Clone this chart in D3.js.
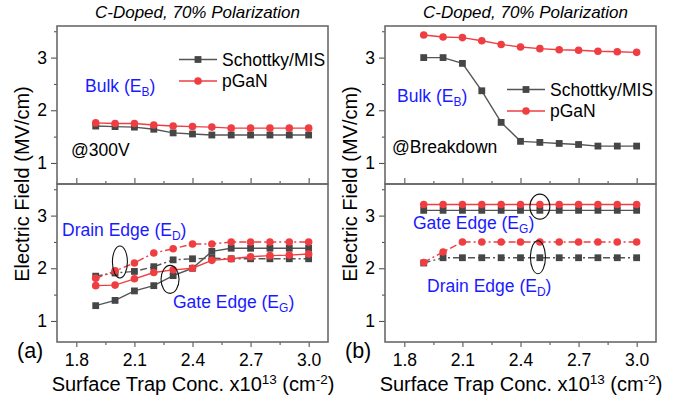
<!DOCTYPE html>
<html>
<head>
<meta charset="utf-8">
<script src="https://cdn.jsdelivr.net/npm/d3@7"></script>
<style>
  body { margin: 0; background: #fff; }
  svg { font-family: "Liberation Sans", Arial, sans-serif; }
</style>
</head>
<body>
<div id="chart"></div>
<script>
// surface trap concentration (x10^13 cm^-2)
const trapConc = [1.9, 2.0, 2.1, 2.2, 2.3, 2.4, 2.5, 2.6, 2.7, 2.8, 2.9, 3.0];

// (a) @300V
const bulk300Schottky = [1.70, 1.69, 1.68, 1.64, 1.57, 1.55, 1.53, 1.53, 1.53, 1.53, 1.53, 1.53];
const bulk300Pgan     = [1.76, 1.75, 1.75, 1.72, 1.70, 1.69, 1.68, 1.66, 1.66, 1.66, 1.66, 1.66];
const gate300Schottky = [1.29, 1.39, 1.57, 1.67, 1.86, 2.00, 2.32, 2.38, 2.38, 2.38, 2.38, 2.38];
const drain300Schottky= [1.85, 1.91, 1.94, 2.03, 2.16, 2.18, 2.19, 2.18, 2.18, 2.18, 2.18, 2.18];
const gate300Pgan     = [1.67, 1.68, 1.80, 1.92, 1.97, 2.00, 2.15, 2.18, 2.22, 2.24, 2.25, 2.27];
const drain300Pgan    = [1.81, 1.95, 2.10, 2.29, 2.37, 2.46, 2.46, 2.50, 2.50, 2.50, 2.50, 2.50];

// (b) @Breakdown
const bulkBdSchottky  = [3.00, 3.00, 2.89, 2.37, 1.77, 1.41, 1.39, 1.37, 1.35, 1.32, 1.32, 1.32];
const bulkBdPgan      = [3.43, 3.39, 3.38, 3.32, 3.25, 3.20, 3.17, 3.15, 3.14, 3.12, 3.11, 3.10];
const gateBdSchottky  = [3.10, 3.10, 3.10, 3.10, 3.10, 3.10, 3.10, 3.10, 3.10, 3.10, 3.10, 3.10];
const drainBdSchottky = [2.10, 2.20, 2.20, 2.20, 2.20, 2.20, 2.20, 2.20, 2.20, 2.20, 2.20, 2.20];
const gateBdPgan      = [3.21, 3.21, 3.21, 3.21, 3.21, 3.21, 3.21, 3.21, 3.21, 3.21, 3.21, 3.21];
const drainBdPgan     = [2.11, 2.31, 2.50, 2.50, 2.50, 2.50, 2.50, 2.50, 2.50, 2.50, 2.50, 2.50];

const xTicks = [1.8, 2.1, 2.4, 2.7, 3.0];
const xMinorTicks = [1.95, 2.25, 2.55, 2.85];
const yTicks = [1, 2, 3];
const yMinorTicks = [1.5, 2.5, 3.5];

const W = 679, H = 401;
const dark = "#464646", red = "#ef3e42", blue = "#1a1aff", frameColor = "#6a6a6a";

const svg = d3.select("#chart").append("svg")
  .attr("width", W).attr("height", H);

const yTop = d3.scaleLinear().domain([0.6, 3.6]).range([184, 26]);
const yBot = d3.scaleLinear().domain([0.6, 3.6]).range([342, 184]);

function series(g, x, y, vals, color, shape, dash) {
  const line = d3.line().x((d, i) => x(trapConc[i])).y(d => y(d));
  g.append("path").datum(vals)
    .attr("d", line).attr("fill", "none")
    .attr("stroke", color === "dark" ? "#555" : red)
    .attr("stroke-width", 1.4)
    .attr("stroke-dasharray", dash || null);
  if (shape == "square") {
    g.selectAll(null).data(vals).enter().append("rect")
      .attr("x", (d, i) => x(trapConc[i]) - 3.4)
      .attr("y", d => y(d) - 3.4)
      .attr("width", 6.8).attr("height", 6.8)
      .attr("fill", dark);
  } else {
    g.selectAll(null).data(vals).enter().append("circle")
      .attr("cx", (d, i) => x(trapConc[i]))
      .attr("cy", d => y(d))
      .attr("r", 3.8)
      .attr("fill", red);
  }
}

function subText(g, x, y, main, sub, size) {
  const t = g.append("text").attr("x", x).attr("y", y)
    .attr("font-size", size || 17).attr("fill", blue);
  t.append("tspan").text(main);
  t.append("tspan").attr("dy", 4).attr("font-size", 12).text(sub);
  t.append("tspan").attr("dy", -4).text(")");
}

function ellipse(g, x, y, cx, cy, rx, ry) {
  g.append("ellipse")
    .attr("cx", x(cx)).attr("cy", y(cy))
    .attr("rx", rx).attr("ry", ry)
    .attr("fill", "none").attr("stroke", "#111").attr("stroke-width", 1.1);
}

function drawPanel(x, d, label) {
  const g = svg.append("g");
  const x0 = x.range()[0], x1 = x.range()[1];

  // y axes (ticks outward, left)
  [yTop, yBot].forEach(y => {
    g.append("g").attr("transform", `translate(${x0},0)`)
      .call(d3.axisLeft(y).tickValues(yTicks).tickSize(6).tickPadding(4).tickFormat(d3.format("d")))
      .call(a => a.select(".domain").remove())
      .call(a => a.selectAll("text").attr("font-size", 17.5).attr("fill", "#000"));
    g.append("g").attr("transform", `translate(${x0},0)`)
      .call(d3.axisLeft(y).tickValues(yMinorTicks).tickSize(3).tickFormat(""))
      .call(a => a.select(".domain").remove());
  });

  // top panel bottom ticks (pointing up, inside)
  g.append("g").attr("transform", "translate(0,184)")
    .call(d3.axisTop(x).tickValues(xTicks).tickSize(6).tickFormat(""))
    .call(a => a.select(".domain").remove());
  g.append("g").attr("transform", "translate(0,184)")
    .call(d3.axisTop(x).tickValues(xMinorTicks).tickSize(3).tickFormat(""))
    .call(a => a.select(".domain").remove());

  // bottom x axis
  g.append("g").attr("transform", "translate(0,342)")
    .call(d3.axisBottom(x).tickValues(xTicks).tickSize(5).tickPadding(7).tickFormat(d3.format(".1f")))
    .call(a => a.select(".domain").remove())
    .call(a => a.selectAll("text").attr("font-size", 17.5).attr("fill", "#000"));
  g.append("g").attr("transform", "translate(0,342)")
    .call(d3.axisBottom(x).tickValues(xMinorTicks).tickSize(3).tickFormat(""))
    .call(a => a.select(".domain").remove());

  g.selectAll(".tick line").attr("stroke", "#444");

  // frames
  g.append("rect").attr("x", x0).attr("y", 26).attr("width", x1 - x0).attr("height", 158)
    .attr("fill", "none").attr("stroke", frameColor).attr("stroke-width", 1.6);
  g.append("rect").attr("x", x0).attr("y", 184).attr("width", x1 - x0).attr("height", 158)
    .attr("fill", "none").attr("stroke", frameColor).attr("stroke-width", 1.6);

  // data
  series(g, x, yTop, d.bulkS, "dark", "square");
  series(g, x, yTop, d.bulkP, "red", "circle");
  series(g, x, yBot, d.gateS, "dark", "square");
  series(g, x, yBot, d.drainS, "dark", "square", "7,3,2,3");
  series(g, x, yBot, d.gateP, "red", "circle");
  series(g, x, yBot, d.drainP, "red", "circle", "7,3,2,3");

  // title
  g.append("text").attr("x", (x0 + x1) / 2 + 5).attr("y", 18)
    .attr("text-anchor", "middle").attr("font-size", 17).attr("font-style", "italic")
    .text("C-Doped, 70% Polarization");

  // y title
  g.append("text")
    .attr("transform", `translate(${x0 - 28},184) rotate(-90)`)
    .attr("text-anchor", "middle").attr("font-size", 20)
    .text("Electric Field (MV/cm)");

  // x title
  const xt = g.append("text").attr("x", (x0 + x1) / 2 + 0.5).attr("y", 391)
    .attr("text-anchor", "middle").attr("font-size", 20);
  xt.append("tspan").text("Surface Trap Conc. x10");
  xt.append("tspan").attr("dy", -7).attr("font-size", 13.5).text("13");
  xt.append("tspan").attr("dy", 7).text(" (cm");
  xt.append("tspan").attr("dy", -7).attr("font-size", 13.5).text("-2");
  xt.append("tspan").attr("dy", 7).text(")");

  // panel label
  g.append("text").attr("x", x0 - 40).attr("y", 358)
    .attr("font-size", 21.5).text(label);

  return g;
}

const xL = d3.scaleLinear().domain([1.7, 3.1]).range([57, 328]);
const xR = d3.scaleLinear().domain([1.7, 3.1]).range([385, 656]);

const gA = drawPanel(xL, {
  bulkS: bulk300Schottky, bulkP: bulk300Pgan,
  gateS: gate300Schottky, drainS: drain300Schottky,
  gateP: gate300Pgan, drainP: drain300Pgan
}, "(a)");

const gB = drawPanel(xR, {
  bulkS: bulkBdSchottky, bulkP: bulkBdPgan,
  gateS: gateBdSchottky, drainS: drainBdSchottky,
  gateP: gateBdPgan, drainP: drainBdPgan
}, "(b)");

// legends
function legend(g, lx, ly) {
  const items = [["Schottky/MIS", "dark"], ["pGaN", "red"]];
  items.forEach((it, i) => {
    const y = ly + i * 21.5;
    g.append("line").attr("x1", lx).attr("x2", lx + 38).attr("y1", y).attr("y2", y)
      .attr("stroke", it[1] == "dark" ? "#555" : red).attr("stroke-width", 1.4);
    if (it[1] == "dark") {
      g.append("rect").attr("x", lx + 19 - 3.4).attr("y", y - 3.4).attr("width", 6.8).attr("height", 6.8).attr("fill", dark);
    } else {
      g.append("circle").attr("cx", lx + 19).attr("cy", y).attr("r", 3.8).attr("fill", red);
    }
    g.append("text").attr("x", lx + 43).attr("y", y + 6).attr("font-size", 17.5).text(it[0]);
  });
}
legend(gA, 179, 59.5);
legend(gB, 507, 89.5);

// annotations
subText(gA, 85, 91.5, "Bulk (E", "B", 17.5);
gA.append("text").attr("x", 71).attr("y", 155.5).attr("font-size", 17.5).text("@300V");
subText(gA, 62, 235.5, "Drain Edge (E", "D", 17.5);
subText(gA, 173, 307.5, "Gate Edge (E", "G", 17.5);
ellipse(gA, xL, yBot, 2.025, 2.12, 7.5, 16);
ellipse(gA, xL, yBot, 2.284, 1.79, 9, 14);

subText(gB, 397, 101.5, "Bulk (E", "B", 17.5);
gB.append("text").attr("x", 392).attr("y", 152.5).attr("font-size", 17.5).text("@Breakdown");
subText(gB, 413, 229, "Gate Edge (E", "G", 17.5);
subText(gB, 427, 291.5, "Drain Edge (E", "D", 17.5);
ellipse(gB, xR, yBot, 2.50, 3.17, 10, 12.5);
ellipse(gB, xR, yBot, 2.49, 2.21, 7.5, 16.5);
</script>
</body>
</html>
